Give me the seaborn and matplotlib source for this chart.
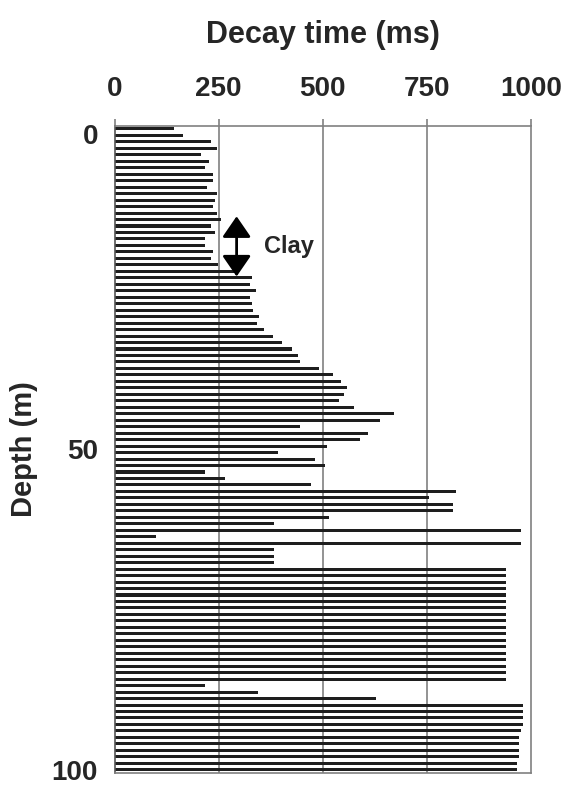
import numpy as np
import pandas as pd
import seaborn as sns
import matplotlib.pyplot as plt
import matplotlib.transforms as mtransforms

# decay time per 1 m depth interval, top to bottom
decay = [143, 163, 231, 245, 207, 227, 216, 237, 237, 222,
         245, 241, 237, 245, 256, 231, 241, 218, 216, 236,
         231, 249, 290, 329, 324, 339, 324, 329, 333, 348,
         343, 359, 381, 402, 427, 441, 446, 491, 525, 544,
         559, 550, 540, 574, 671, 638, 446, 608, 589, 510,
         393, 481, 506, 216, 265, 471, 820, 756, 813, 813,
         515, 383, 976, 99, 976, 383, 383, 383,
         941, 941, 941, 941, 941, 941, 941, 941, 941, 941,
         941, 941, 941, 941, 941, 941, 941, 941,
         216, 344, 628, 981, 981, 981, 981, 976, 971, 971,
         971, 971, 966, 966]
depth = np.arange(len(decay)) + 0.5
x_ticks = [0, 250, 500, 750, 1000]
y_ticks = [0, 50, 100]

df = pd.DataFrame({'depth': depth, 'decay': decay})

sns.set_style('white')
plt.rcParams['font.family'] = ['Liberation Sans', 'DejaVu Sans']
plt.rcParams['font.weight'] = 'bold'

fig = plt.figure(figsize=(5.64, 7.85), dpi=100)
ax = fig.add_axes([0.2034, 0.0153, 0.7376, 0.8246])

sns.barplot(data=df, x='decay', y='depth', orient='h', native_scale=True,
            color='#1e1e1e', width=0.47, linewidth=0, saturation=1, ax=ax)

ax.set_xlim(0, 1000)
ax.set_ylim(100, 0)

# vertical grid lines
for v in x_ticks[1:-1]:
    ax.axvline(v, color='#808080', lw=1.2, zorder=0)

ax.xaxis.tick_top()
ax.xaxis.set_label_position('top')
ax.set_xticks(x_ticks)
ax.set_xticklabels([str(t) for t in x_ticks], fontsize=20, fontweight='bold')
ax.tick_params(axis='x', direction='out', length=5, width=1.2, color='#808080', pad=12)
ax.set_yticks(y_ticks)
ax.set_yticklabels([str(t) for t in y_ticks], fontsize=20, fontweight='bold')
ax.tick_params(axis='y', length=0, pad=12)
# nudge first / last depth labels like the original
lbls = ax.get_yticklabels()
lbls[0].set_transform(lbls[0].get_transform() + mtransforms.ScaledTranslation(0, -6/72, fig.dpi_scale_trans))
lbls[-1].set_transform(lbls[-1].get_transform() + mtransforms.ScaledTranslation(0, 2/72, fig.dpi_scale_trans))

ax.set_xlabel('Decay time (ms)', fontsize=22, fontweight='bold', labelpad=24)
ax.set_ylabel('Depth (m)', fontsize=21, fontweight='bold', labelpad=10)

for s in ['top', 'right', 'bottom']:
    ax.spines[s].set_color('#808080')
    ax.spines[s].set_linewidth(1.2)
ax.spines['left'].set_color('#555555')
ax.spines['left'].set_linewidth(1.2)

# clay layer marker
ax.annotate('', xy=(293, 23.3), xytext=(293, 14.0),
            arrowprops=dict(arrowstyle='<|-|>,head_length=0.8,head_width=0.55',
                            color='black', lw=2, shrinkA=0, shrinkB=0,
                            mutation_scale=16))
ax.text(358, 18.7, 'Clay', fontsize=17, fontweight='bold', va='center', ha='left')

fig.savefig('out.png', dpi=100)
